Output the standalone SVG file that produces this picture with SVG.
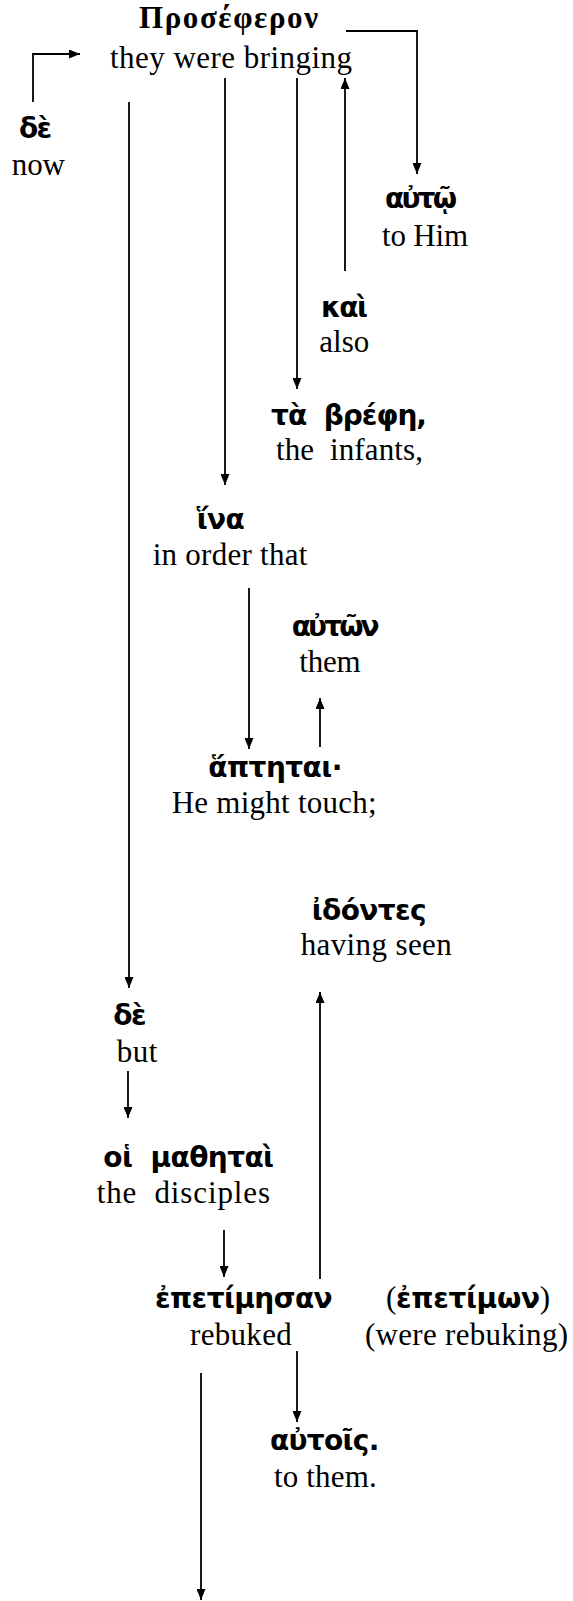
<svg xmlns="http://www.w3.org/2000/svg" width="573" height="1601" viewBox="0 0 573 1601">
<style>
.gk{font-family:"DejaVu Sans","Noto Sans",sans-serif;font-weight:bold;font-size:28px;fill:#000}
.gs{font-family:"Liberation Serif","Times New Roman",serif;font-weight:bold;font-size:31px;fill:#000}
.en{font-family:"Liberation Serif","Times New Roman",serif;font-size:31px;fill:#000}
.par{font-family:"Liberation Serif","Times New Roman",serif;font-weight:normal;font-size:31px}
.ln{fill:none;stroke:#000;stroke-width:1.8;marker-end:url(#ah)}
</style>
<defs>
<marker id="ah" viewBox="0 0 11 9" refX="11" refY="4.5" markerWidth="11" markerHeight="9" markerUnits="userSpaceOnUse" orient="auto">
<path d="M0,0 L11,4.5 L0,9 z" fill="#000"/>
</marker>
</defs>
<rect width="573" height="1601" fill="#fff"/>
<g id="connectors">
<path class="ln" d="M33,102 V54 H80"/>
<path class="ln" d="M346,31 H417 V174"/>
<path class="ln" d="M129,102 V988"/>
<path class="ln" d="M225,78 V485"/>
<path class="ln" d="M297,78 V389"/>
<path class="ln" d="M345,271 V78"/>
<path class="ln" d="M249,588 V749"/>
<path class="ln" d="M320,747 V698"/>
<path class="ln" d="M128,1071 V1118"/>
<path class="ln" d="M224,1230 V1277"/>
<path class="ln" d="M320,1279 V992"/>
<path class="ln" d="M297,1351 V1422"/>
<path class="ln" d="M201,1373 V1600"/>
</g>
<g id="n-prosepheron">
<text class="gs" x="139" y="28" textLength="179">Προσέφερον</text>
<text class="en" x="110" y="67.5" textLength="242">they were bringing</text>
</g>
<g id="n-de1">
<text class="gk" x="19" y="137.5" textLength="33">δὲ</text>
<text class="en" x="11.7" y="174.5" textLength="53.3">now</text>
</g>
<g id="n-auto">
<text class="gk" x="385" y="208.3" textLength="72">αὐτῷ</text>
<text class="en" x="382" y="246" textLength="86">to Him</text>
</g>
<g id="n-kai">
<text class="gk" x="321" y="316.7" textLength="47">καὶ</text>
<text class="en" x="319.3" y="351.7" textLength="50">also</text>
</g>
<g id="n-brephe">
<text class="gk" x="271" y="425" textLength="156" xml:space="preserve">τὰ  βρέφη,</text>
<text class="en" x="276" y="460" textLength="147" xml:space="preserve">the  infants,</text>
</g>
<g id="n-hina">
<text class="gk" x="196.7" y="529.3" textLength="48">ἵνα</text>
<text class="en" x="152.7" y="565" textLength="154.6">in order that</text>
</g>
<g id="n-auton">
<text class="gk" x="291.7" y="636" textLength="88">αὐτῶν</text>
<text class="en" x="299.3" y="672.3" textLength="61.4">them</text>
</g>
<g id="n-haptetai">
<text class="gk" x="208.3" y="776.7" textLength="134">ἅπτηται·</text>
<text class="en" x="171.7" y="813.3" textLength="205">He might touch;</text>
</g>
<g id="n-idontes">
<text class="gk" x="311.7" y="920" textLength="115">ἰδόντες</text>
<text class="en" x="300.7" y="955" textLength="151">having seen</text>
</g>
<g id="n-de2">
<text class="gk" x="113.3" y="1025" textLength="33.4">δὲ</text>
<text class="en" x="116.7" y="1061.7" textLength="40.6">but</text>
</g>
<g id="n-mathetai">
<text class="gk" x="103.3" y="1166.7" textLength="170.7" xml:space="preserve">οἱ  μαθηταὶ</text>
<text class="en" x="96.7" y="1203" textLength="173.3" xml:space="preserve">the  disciples</text>
</g>
<g id="n-epetimesan">
<text class="gk" x="155" y="1308" textLength="177.7">ἐπετίμησαν</text>
<text class="en" x="190" y="1345" textLength="101.7">rebuked</text>
</g>
<g id="n-epetimon">
<text class="gk" x="386" y="1308" textLength="164"><tspan class="par">(</tspan>ἐπετίμων<tspan class="par">)</tspan></text>
<text class="en" x="365" y="1345" textLength="203">(were rebuking)</text>
</g>
<g id="n-autois">
<text class="gk" x="270" y="1450" textLength="109.3">αὐτοῖς.</text>
<text class="en" x="274" y="1486.7" textLength="102.7">to them.</text>
</g>
</svg>
